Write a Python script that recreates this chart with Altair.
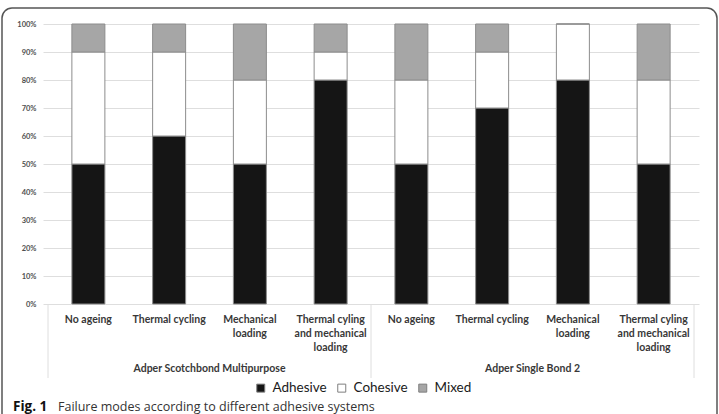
import altair as alt
import pandas as pd

# ---- data ----
groups = ["Adper Scotchbond Multipurpose", "Adper Single Bond 2"]
conditions = ["No ageing", "Thermal cycling", "Mechanical\nloading",
              "Thermal cyling\nand mechanical\nloading"]
modes = ["Adhesive", "Cohesive", "Mixed"]
colors = ["#151515", "#ffffff", "#a6a6a6"]
adhesive = [50, 60, 50, 80, 50, 70, 80, 50]
cohesive = [40, 30, 30, 10, 30, 20, 20, 30]
mixed = [10, 10, 20, 10, 20, 10, 0, 20]
y_ticks = [0, 10, 20, 30, 40, 50, 60, 70, 80, 90, 100]
caption_bold = "Fig. 1"
caption_text = "Failure modes according to different adhesive systems"

n_cond = len(conditions)
n_bars = len(groups) * n_cond

rows = []
for i in range(n_bars):
    for k, (m, vals) in enumerate(zip(modes, [adhesive, cohesive, mixed])):
        rows.append({"pos": i, "mode": m, "order": k, "value": vals[i]})
bars_df = pd.DataFrame(rows)

labels_df = pd.DataFrame({"pos": list(range(n_bars)),
                          "text": [conditions[i % n_cond] for i in range(n_bars)]})
group_df = pd.DataFrame({"pos": [g * n_cond + (n_cond - 1) / 2 for g in range(len(groups))],
                         "text": groups})
sep_df = pd.DataFrame({"pos": [g * n_cond - 0.5 for g in range(len(groups) + 1)]})

FONT = "Lato"
TXT = "#383838"
xscale = alt.Scale(domain=[-0.5, n_bars - 0.5], nice=False, zero=False)

bars = alt.Chart(bars_df).mark_bar(size=33, stroke="#8c8c8c", strokeWidth=1).encode(
    x=alt.X("pos:Q", scale=xscale, axis=None),
    y=alt.Y("value:Q", stack="zero", scale=alt.Scale(domain=[0, 100], nice=False),
            axis=alt.Axis(values=y_ticks, labelExpr="datum.value + '%'", title=None,
                          domain=False, ticks=False, grid=True, gridColor="#dedede",
                          labelFont=FONT, labelFontSize=7.5, labelFontWeight="bold",
                          labelColor="#505050", labelPadding=7)),
    color=alt.Color("mode:N", scale=alt.Scale(domain=modes, range=colors),
                    legend=alt.Legend(title=None, orient="none", direction="horizontal",
                                      legendX=211, legendY=357, symbolType="square",
                                      symbolSize=64, symbolStrokeColor="#7f7f7f",
                                      symbolStrokeWidth=1, labelFont=FONT,
                                      labelFontSize=13.5, labelColor="#1a1a1a",
                                      labelOffset=5, columnPadding=8, padding=0)),
    order=alt.Order("order:Q"),
)

cond_labels = alt.Chart(labels_df).mark_text(
    lineBreak="\n", baseline="top", align="center", font=FONT, fontSize=10.5,
    fontWeight="bold", color=TXT, lineHeight=14,
).encode(x=alt.X("pos:Q", scale=xscale, axis=None), y=alt.value(291), text="text:N")

group_labels = alt.Chart(group_df).mark_text(
    baseline="middle", align="center", font=FONT, fontSize=10.5,
    fontWeight="bold", color=TXT,
).encode(x=alt.X("pos:Q", scale=xscale, axis=None), y=alt.value(345), text="text:N")

seps = alt.Chart(sep_df).mark_rule(color="#dedede", strokeWidth=1).encode(
    x=alt.X("pos:Q", scale=xscale, axis=None), y=alt.value(280), y2=alt.value(354))

frame = alt.Chart(pd.DataFrame({"a": [0]})).mark_rect(
    fill="transparent", stroke="#555555", strokeWidth=1.5, cornerRadius=10,
).encode(x=alt.value(-41), x2=alt.value(674), y=alt.value(-16), y2=alt.value(430))

cap1 = alt.Chart(pd.DataFrame({"t": [caption_bold]})).mark_text(
    align="left", baseline="alphabetic", font="Open Sans", fontSize=13.5,
    fontWeight="bold", color="#111111",
).encode(x=alt.value(-30), y=alt.value(387), text="t:N")

cap2 = alt.Chart(pd.DataFrame({"t": [caption_text]})).mark_text(
    align="left", baseline="alphabetic", font="Open Sans", fontSize=12.5,
    color="#333333",
).encode(x=alt.value(15), y=alt.value(387), text="t:N")

chart = alt.layer(seps, bars, cond_labels, group_labels, frame, cap1, cap2).properties(
    width=656, height=280,
    autosize=alt.AutoSizeParams(type="none"),
    padding={"left": 43, "top": 24, "right": 20, "bottom": 110},
    background="white",
).configure_view(stroke=None)

chart.save("out.html", embed_options={"renderer": "svg", "actions": False})
